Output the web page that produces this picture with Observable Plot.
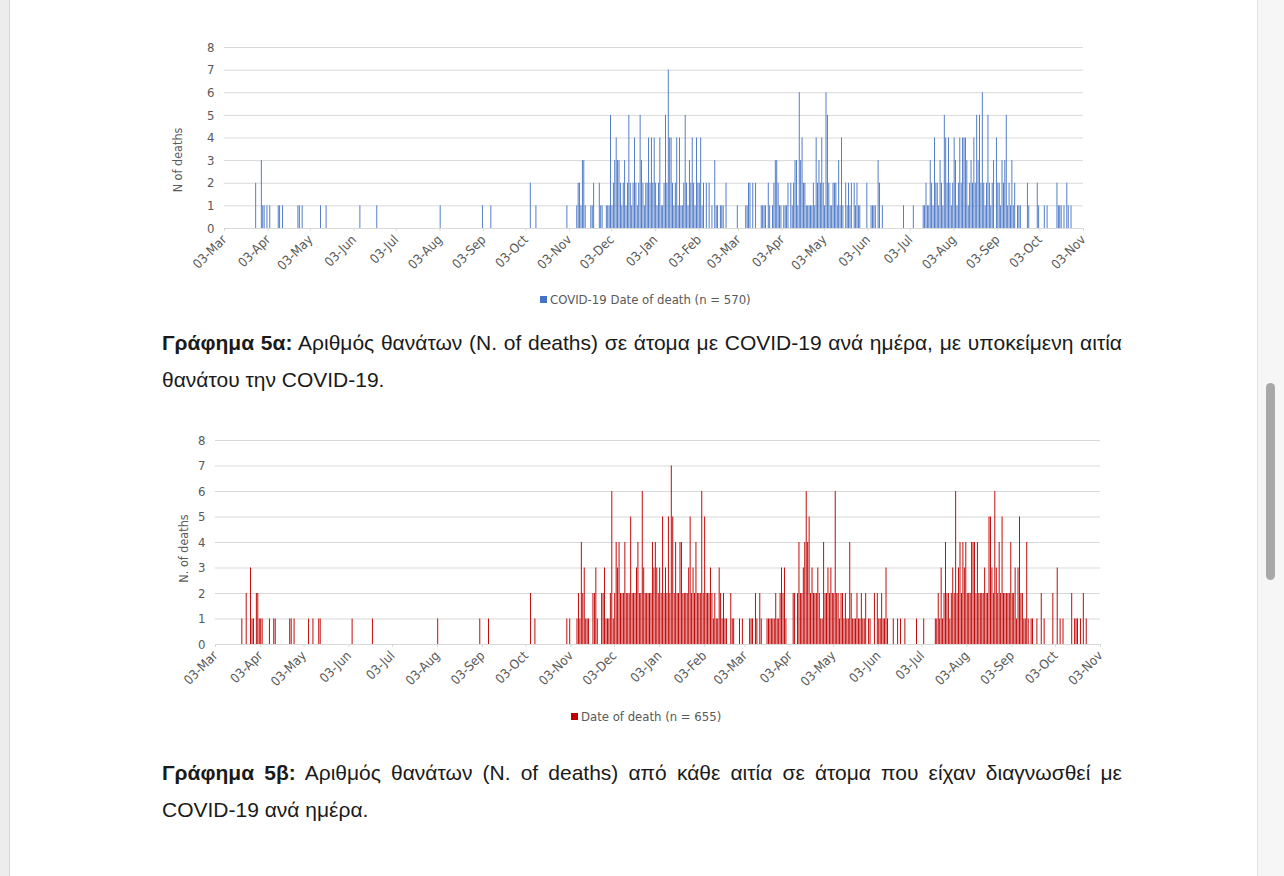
<!DOCTYPE html>
<html>
<head>
<meta charset="utf-8">
<script src="https://cdn.jsdelivr.net/npm/d3@7"></script>
<script src="https://cdn.jsdelivr.net/npm/@observablehq/plot@0.6"></script>
<style>
html,body{margin:0;padding:0;background:#fff;}
#page{position:relative;width:1284px;height:876px;overflow:hidden;background:#fff;}
.leftstrip{position:absolute;left:0;top:0;width:9px;height:876px;background:#ededed;border-right:1px solid #d6d6d6;}
.rightstrip{position:absolute;left:1257px;top:0;width:27px;height:876px;background:#f6f6f6;border-left:1px solid #e2e2e2;}
.thumb{position:absolute;left:1266px;top:383px;width:9px;height:197px;background:#a8a8a8;border-radius:5px;}
.chart{position:absolute;left:0;}
.legend{position:absolute;font-family:"Liberation Sans Narrow","DejaVu Sans Condensed",sans-serif;font-size:13px;color:#595959;display:flex;align-items:center;white-space:nowrap;}
.legend .sw{width:7px;height:7px;margin-right:3px;}
.cap{position:absolute;left:162px;width:960px;font-family:"Liberation Sans",Arial,sans-serif;font-size:21px;line-height:37px;color:#1a1a1a;white-space:nowrap;}
.cap.j{text-align:justify;text-align-last:justify;white-space:normal;}
</style>
</head>
<body>
<div id="page">
  <div class="leftstrip"></div>
  <div class="rightstrip"></div>
  <div class="thumb"></div>
  <div id="top" class="chart" style="top:0px"></div>
  <div class="legend" style="left:540px;top:292px"><div class="sw" style="background:#4472C4"></div>COVID-19 Date of death (n = 570)</div>
  <div class="cap j" style="top:324px"><b>Γράφημα 5α:</b> Αριθμός θανάτων (N. of deaths) σε άτομα με COVID-19 ανά ημέρα, με υποκείμενη αιτία</div>
  <div class="cap" style="top:361px">θανάτου την COVID-19.</div>
  <div id="bottom" class="chart" style="top:400px"></div>
  <div class="legend" style="left:571px;top:709px"><div class="sw" style="background:#C00000"></div>Date of death (n = 655)</div>
  <div class="cap j" style="top:754px"><b>Γράφημα 5β:</b> Αριθμός θανάτων (N. of deaths) από κάθε αιτία σε άτομα που είχαν διαγνωσθεί με</div>
  <div class="cap" style="top:791px">COVID-19 ανά ημέρα.</div>
</div>
<script>
// Start date of each monthly block (each block lists daily counts from this date on)
const monthStarts = ["2020-03-03","2020-04-03","2020-05-03","2020-06-03","2020-07-03","2020-08-03","2020-09-03","2020-10-03","2020-11-03","2020-12-03","2021-01-03","2021-02-03","2021-03-03","2021-04-03","2021-05-03","2021-06-03","2021-07-03","2021-08-03","2021-09-03","2021-10-03"];
const tickDates = ["2020-03-03","2020-04-03","2020-05-03","2020-06-03","2020-07-03","2020-08-03","2020-09-03","2020-10-03","2020-11-03","2020-12-03","2021-01-03","2021-02-03","2021-03-03","2021-04-03","2021-05-03","2021-06-03","2021-07-03","2021-08-03","2021-09-03","2021-10-03","2021-11-03"];
const yTicks = [0,1,2,3,4,5,6,7,8];

// Graph 5a: COVID-19 date of death (underlying cause), daily counts
const blueMar20 = [0,0,0,0,0,0,0,0,0,0, 0,0,0,0,0,0,0,0,0,0, 0,0,2,0,0,0,3,1,1,0, 1];
const blueApr20 = [0,1,0,0,0,0,0,1,1,0, 1,0,0,0,0,0,0,0,0,0, 0,1,1,0,1,0,0,0,0,0];
const blueMay20 = [0,0,0,0,0,0,0,1,0,0, 0,1,0,0,0,0,0,0,0,0, 0,0,0,0,0,0,0,0,0,0, 0];
const blueJun20 = [0,0,0,0,1,0,0,0,0,0, 0,0,0,0,0,0,1,0,0,0, 0,0,0,0,0,0,0,0,0,0];
const blueJul20 = [0,0,0,0,0,0,0,0,0,0, 0,0,0,0,0,0,0,0,0,0, 0,0,0,0,0,0,0,0,0,0, 0];
const blueAug20 = [1,0,0,0,0,0,0,0,0,0, 0,0,0,0,0,0,0,0,0,0, 0,0,0,0,0,0,0,0,0,0, 1];
const blueSep20 = [0,0,0,0,0,1,0,0,0,0, 0,0,0,0,0,0,0,0,0,0, 0,0,0,0,0,0,0,0,0,0];
const blueOct20 = [0,0,0,2,0,0,0,1,0,0, 0,0,0,0,0,0,0,0,0,0, 0,0,0,0,0,0,0,0,0,1, 0];
const blueNov20 = [0,0,0,0,0,1,2,2,1,3, 3,1,0,0,0,1,1,2,0,0, 0,2,1,1,0,0,1,1,1,5];
const blueDec20 = [1,2,3,4,3,3,2,1,2,3, 1,2,5,2,1,2,4,2,1,2, 5,3,2,1,2,2,4,2,4,2, 4];
const blueJan21 = [2,1,2,4,1,1,2,5,2,7, 4,4,2,1,2,4,1,4,1,1, 2,5,2,1,3,2,4,2,1,4, 2];
const blueFeb21 = [2,4,1,2,0,2,0,2,0,1, 0,3,1,1,0,1,1,1,0,2, 0,0,0,0,0,0,0,1];
const blueMar21 = [0,0,0,0,0,1,1,2,2,0, 2,0,2,0,0,0,1,1,1,1, 0,2,1,0,1,2,3,3,2,1, 1];
const blueApr21 = [0,1,1,1,2,0,2,1,2,3, 3,1,6,3,4,2,2,1,1,1, 1,1,2,1,4,2,3,2,4,2];
const blueMay21 = [1,6,5,2,1,1,2,2,2,1, 3,1,4,1,0,2,1,2,1,2, 0,2,1,2,1,1,0,0,0,0, 2];
const blueJun21 = [0,0,1,1,1,1,0,3,2,0, 1,0,0,0,0,0,0,0,0,0, 0,0,0,0,0,1,0,0,0,0];
const blueJul21 = [0,0,1,0,0,0,0,0,0,1, 1,2,1,1,3,2,1,4,2,2, 1,3,2,1,5,4,2,4,2,1, 2];
const blueAug21 = [4,3,1,2,4,2,4,4,4,3, 1,2,3,2,4,2,5,3,5,2, 6,2,1,2,5,2,1,2,3,0, 4];
const blueSep21 = [2,2,1,3,2,3,5,1,2,1, 3,1,2,0,1,1,1,0,0,0, 0,2,1,0,0,0,0,0,2,1];
const blueOct21 = [0,0,0,1,0,1,0,0,0,0, 0,0,2,1,1,1,0,1,0,2, 1,0,1,0,0,0,0,0,0,0, 0];

// Graph 5b: date of death from any cause, daily counts
const redMar20 = [0,0,0,0,0,0,0,0,0,0, 0,0,0,0,0,0,0,0,1,0, 0,2,0,0,3,1,1,0,2,2, 1];
const redApr20 = [1,1,0,0,0,0,1,0,0,1, 1,0,0,0,0,0,0,0,0,0, 1,1,0,1,0,0,0,0,0,0];
const redMay20 = [0,0,0,1,0,0,1,0,0,0, 1,1,0,0,0,0,0,0,0,0, 0,0,0,0,0,0,0,0,0,0, 0];
const redJun20 = [0,0,1,0,0,0,0,0,0,0, 0,0,0,0,0,0,1,0,0,0, 0,0,0,0,0,0,0,0,0,0];
const redJul20 = [0,0,0,0,0,0,0,0,0,0, 0,0,0,0,0,0,0,0,0,0, 0,0,0,0,0,0,0,0,0,0, 0];
const redAug20 = [1,0,0,0,0,0,0,0,0,0, 0,0,0,0,0,0,0,0,0,0, 0,0,0,0,0,0,0,0,0,1, 0];
const redSep20 = [0,0,0,0,1,0,0,0,0,0, 0,0,0,0,0,0,0,0,0,0, 0,0,0,0,0,0,0,0,0,0];
const redOct20 = [0,0,0,2,0,0,1,0,0,0, 0,0,0,0,0,0,0,0,0,0, 0,0,0,0,0,0,0,0,1,0, 1];
const redNov20 = [0,0,0,0,1,2,1,4,2,3, 1,1,1,0,0,2,2,3,1,0, 0,2,2,3,1,1,1,2,6,1];
const redDec20 = [2,4,3,4,2,2,2,4,2,2, 2,5,2,2,2,3,4,2,2,6, 3,2,2,2,2,2,4,3,4,3, 2];
const redJan21 = [3,2,5,2,3,2,5,2,7,5, 2,4,2,2,4,4,2,2,2,2, 3,5,2,3,2,4,2,2,2,6, 2];
const redFeb21 = [5,2,2,2,3,2,1,2,1,1, 3,2,1,2,1,1,0,0,2,1, 1,0,0,0,1,0,1,0];
const redMar21 = [0,0,0,1,1,1,0,2,1,0, 2,1,0,0,0,1,1,1,1,1, 1,2,1,1,2,3,2,3,1,0, 0];
const redApr21 = [0,0,2,2,0,2,4,2,2,3, 4,6,4,5,2,3,2,2,2,3, 2,1,1,4,2,2,3,2,3,2];
const redMay21 = [2,6,2,2,1,2,2,1,2,1, 1,4,2,1,1,1,2,1,1,2, 1,1,2,0,1,1,0,0,2,0, 2];
const redJun21 = [1,1,2,1,1,3,1,0,0,0, 1,0,0,1,0,1,0,0,1,0, 0,0,0,0,0,0,1,0,0,0];
const redJul21 = [0,1,0,0,0,0,0,0,0,1, 1,2,1,3,1,2,4,2,2,1, 2,3,2,6,2,3,4,2,4,3, 4];
const redAug21 = [2,2,2,4,4,4,2,4,2,2, 2,2,3,2,2,5,5,3,2,6, 3,2,4,2,5,2,2,2,2,2, 4];
const redSep21 = [2,2,3,1,3,5,2,2,1,1, 4,1,0,1,1,0,0,1,0,0, 2,0,1,0,0,0,0,0,2,0];
const redOct21 = [0,3,0,1,0,1,0,0,0,0, 0,2,0,1,1,1,0,1,0,2, 0,1,0,0,0,0,0,0,0,0, 0];

const blueMonths = [blueMar20,blueApr20,blueMay20,blueJun20,blueJul20,blueAug20,blueSep20,blueOct20,blueNov20,blueDec20,blueJan21,blueFeb21,blueMar21,blueApr21,blueMay21,blueJun21,blueJul21,blueAug21,blueSep21,blueOct21];
const redMonths = [redMar20,redApr20,redMay20,redJun20,redJul20,redAug20,redSep20,redOct20,redNov20,redDec20,redJan21,redFeb21,redMar21,redApr21,redMay21,redJun21,redJul21,redAug21,redSep21,redOct21];

function daily(months) {
  return months.flatMap((vals, k) => vals.map((v, i) => {
    const date = d3.utcDay.offset(new Date(monthStarts[k]), i);
    return {date, next: d3.utcDay.offset(date, 1), value: v};
  })).filter(d => d.value > 0);
}

const FONT = '"Liberation Sans Narrow","DejaVu Sans Condensed",sans-serif';
const domainX = [new Date(tickDates[0]), new Date(tickDates[tickDates.length - 1])];
const ticksX = tickDates.map(s => new Date(s));

function chart({data, color, left, right, top, bottom, label, labelDx, labelDy}) {
  return Plot.plot({
    width: 1284,
    height: bottom + 62,
    marginLeft: left, marginRight: 1284 - right, marginTop: top, marginBottom: 62,
    style: {fontFamily: FONT, fontSize: "13px", color: "#595959", background: "transparent", overflow: "visible"},
    x: {type: "utc", domain: domainX},
    y: {domain: [0, 8]},
    marks: [
      Plot.ruleY(yTicks, {stroke: "#d9d9d9", strokeWidth: 1}),
      Plot.rectY(data, {x1: "date", x2: "next", y: "value", fill: color, insetLeft: 0.25, insetRight: 0.25}),
      Plot.axisY({ticks: yTicks, tickSize: 0, tickPadding: 10, label: null, fill: "#595959"}),
      Plot.axisX({ticks: ticksX, tickFormat: d3.utcFormat("%d-%b"), tickRotate: -45, tickSize: 3, tickPadding: 6, stroke: "#d9d9d9", fill: "#595959", label: null}),
      Plot.text([label], {text: d => d, frameAnchor: "left", textAnchor: "middle", lineAnchor: "middle", rotate: -90, dx: labelDx, dy: labelDy, fill: "#595959", fontSize: 12.5})
    ]
  });
}

document.getElementById("top").append(chart({
  data: daily(blueMonths), color: "#4472C4", left: 224, right: 1083, top: 47, bottom: 228,
  label: "N of deaths", labelDx: -47, labelDy: 22
}));
document.getElementById("bottom").append(chart({
  data: daily(redMonths), color: "#C00000", left: 215, right: 1100, top: 40, bottom: 244,
  label: "N. of deaths", labelDx: -32, labelDy: 6
}));
</script>
</body>
</html>
